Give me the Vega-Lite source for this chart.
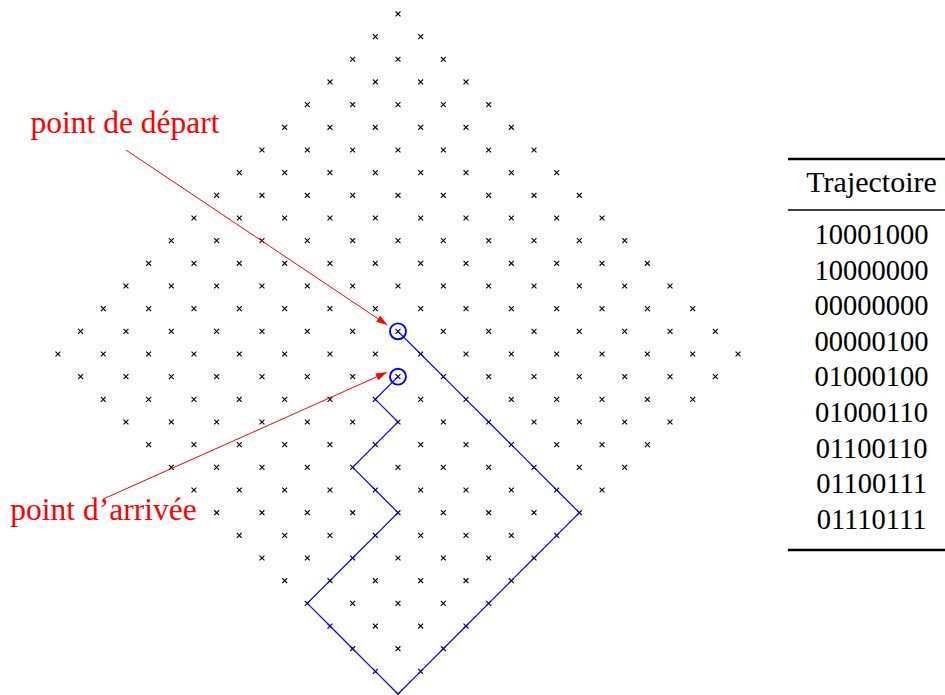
{
  "$schema": "https://vega.github.io/schema/vega-lite/v6.json",
  "width": 945,
  "height": 695,
  "autosize": {"type": "none"},
  "padding": 0,
  "background": "white",
  "config": {"view": {"stroke": null}},
  "datasets": {
    "grid": [
      {"a":0,"b":15},
      {"a":-1,"b":14},{"a":1,"b":14},
      {"a":-2,"b":13},{"a":0,"b":13},{"a":2,"b":13},
      {"a":-3,"b":12},{"a":-1,"b":12},{"a":1,"b":12},{"a":3,"b":12},
      {"a":-4,"b":11},{"a":-2,"b":11},{"a":0,"b":11},{"a":2,"b":11},{"a":4,"b":11},
      {"a":-5,"b":10},{"a":-3,"b":10},{"a":-1,"b":10},{"a":1,"b":10},{"a":3,"b":10},{"a":5,"b":10},
      {"a":-6,"b":9},{"a":-4,"b":9},{"a":-2,"b":9},{"a":0,"b":9},{"a":2,"b":9},{"a":4,"b":9},{"a":6,"b":9},
      {"a":-7,"b":8},{"a":-5,"b":8},{"a":-3,"b":8},{"a":-1,"b":8},{"a":1,"b":8},{"a":3,"b":8},{"a":5,"b":8},{"a":7,"b":8},
      {"a":-8,"b":7},{"a":-6,"b":7},{"a":-4,"b":7},{"a":-2,"b":7},{"a":0,"b":7},{"a":2,"b":7},{"a":4,"b":7},{"a":6,"b":7},{"a":8,"b":7},
      {"a":-9,"b":6},{"a":-7,"b":6},{"a":-5,"b":6},{"a":-3,"b":6},{"a":-1,"b":6},{"a":1,"b":6},{"a":3,"b":6},{"a":5,"b":6},{"a":7,"b":6},{"a":9,"b":6},
      {"a":-10,"b":5},{"a":-8,"b":5},{"a":-6,"b":5},{"a":-4,"b":5},{"a":-2,"b":5},{"a":0,"b":5},{"a":2,"b":5},{"a":4,"b":5},{"a":6,"b":5},{"a":8,"b":5},{"a":10,"b":5},
      {"a":-11,"b":4},{"a":-9,"b":4},{"a":-7,"b":4},{"a":-5,"b":4},{"a":-3,"b":4},{"a":-1,"b":4},{"a":1,"b":4},{"a":3,"b":4},{"a":5,"b":4},{"a":7,"b":4},{"a":9,"b":4},{"a":11,"b":4},
      {"a":-12,"b":3},{"a":-10,"b":3},{"a":-8,"b":3},{"a":-6,"b":3},{"a":-4,"b":3},{"a":-2,"b":3},{"a":0,"b":3},{"a":2,"b":3},{"a":4,"b":3},{"a":6,"b":3},{"a":8,"b":3},{"a":10,"b":3},{"a":12,"b":3},
      {"a":-13,"b":2},{"a":-11,"b":2},{"a":-9,"b":2},{"a":-7,"b":2},{"a":-5,"b":2},{"a":-3,"b":2},{"a":-1,"b":2},{"a":1,"b":2},{"a":3,"b":2},{"a":5,"b":2},{"a":7,"b":2},{"a":9,"b":2},{"a":11,"b":2},{"a":13,"b":2},
      {"a":-14,"b":1},{"a":-12,"b":1},{"a":-10,"b":1},{"a":-8,"b":1},{"a":-6,"b":1},{"a":-4,"b":1},{"a":-2,"b":1},{"a":0,"b":1},{"a":2,"b":1},{"a":4,"b":1},{"a":6,"b":1},{"a":8,"b":1},{"a":10,"b":1},{"a":12,"b":1},{"a":14,"b":1},
      {"a":-15,"b":0},{"a":-13,"b":0},{"a":-11,"b":0},{"a":-9,"b":0},{"a":-7,"b":0},{"a":-5,"b":0},{"a":-3,"b":0},{"a":-1,"b":0},{"a":1,"b":0},{"a":3,"b":0},{"a":5,"b":0},{"a":7,"b":0},{"a":9,"b":0},{"a":11,"b":0},{"a":13,"b":0},{"a":15,"b":0},
      {"a":-14,"b":-1},{"a":-12,"b":-1},{"a":-10,"b":-1},{"a":-8,"b":-1},{"a":-6,"b":-1},{"a":-4,"b":-1},{"a":-2,"b":-1},{"a":0,"b":-1},{"a":2,"b":-1},{"a":4,"b":-1},{"a":6,"b":-1},{"a":8,"b":-1},{"a":10,"b":-1},{"a":12,"b":-1},{"a":14,"b":-1},
      {"a":-13,"b":-2},{"a":-11,"b":-2},{"a":-9,"b":-2},{"a":-7,"b":-2},{"a":-5,"b":-2},{"a":-3,"b":-2},{"a":-1,"b":-2},{"a":1,"b":-2},{"a":3,"b":-2},{"a":5,"b":-2},{"a":7,"b":-2},{"a":9,"b":-2},{"a":11,"b":-2},{"a":13,"b":-2},
      {"a":-12,"b":-3},{"a":-10,"b":-3},{"a":-8,"b":-3},{"a":-6,"b":-3},{"a":-4,"b":-3},{"a":-2,"b":-3},{"a":0,"b":-3},{"a":2,"b":-3},{"a":4,"b":-3},{"a":6,"b":-3},{"a":8,"b":-3},{"a":10,"b":-3},{"a":12,"b":-3},
      {"a":-11,"b":-4},{"a":-9,"b":-4},{"a":-7,"b":-4},{"a":-5,"b":-4},{"a":-3,"b":-4},{"a":-1,"b":-4},{"a":1,"b":-4},{"a":3,"b":-4},{"a":5,"b":-4},{"a":7,"b":-4},{"a":9,"b":-4},{"a":11,"b":-4},
      {"a":-10,"b":-5},{"a":-8,"b":-5},{"a":-6,"b":-5},{"a":-4,"b":-5},{"a":-2,"b":-5},{"a":0,"b":-5},{"a":2,"b":-5},{"a":4,"b":-5},{"a":6,"b":-5},{"a":8,"b":-5},{"a":10,"b":-5},
      {"a":-9,"b":-6},{"a":-7,"b":-6},{"a":-5,"b":-6},{"a":-3,"b":-6},{"a":-1,"b":-6},{"a":1,"b":-6},{"a":3,"b":-6},{"a":5,"b":-6},{"a":7,"b":-6},{"a":9,"b":-6},
      {"a":-8,"b":-7},{"a":-6,"b":-7},{"a":-4,"b":-7},{"a":-2,"b":-7},{"a":0,"b":-7},{"a":2,"b":-7},{"a":4,"b":-7},{"a":6,"b":-7},{"a":8,"b":-7},
      {"a":-7,"b":-8},{"a":-5,"b":-8},{"a":-3,"b":-8},{"a":-1,"b":-8},{"a":1,"b":-8},{"a":3,"b":-8},{"a":5,"b":-8},{"a":7,"b":-8},
      {"a":-6,"b":-9},{"a":-4,"b":-9},{"a":-2,"b":-9},{"a":0,"b":-9},{"a":2,"b":-9},{"a":4,"b":-9},{"a":6,"b":-9},
      {"a":-5,"b":-10},{"a":-3,"b":-10},{"a":-1,"b":-10},{"a":1,"b":-10},{"a":3,"b":-10},{"a":5,"b":-10},
      {"a":-4,"b":-11},{"a":-2,"b":-11},{"a":0,"b":-11},{"a":2,"b":-11},{"a":4,"b":-11},
      {"a":-3,"b":-12},{"a":-1,"b":-12},{"a":1,"b":-12},{"a":3,"b":-12},
      {"a":-2,"b":-13},{"a":0,"b":-13},{"a":2,"b":-13},
      {"a":-1,"b":-14},{"a":1,"b":-14},
      {"a":0,"b":-15}
    ],
    "path": [
      {"i":0,"a":0,"b":1},
      {"i":1,"a":1,"b":0},{"i":2,"a":2,"b":-1},{"i":3,"a":3,"b":-2},{"i":4,"a":4,"b":-3},
      {"i":5,"a":5,"b":-4},{"i":6,"a":6,"b":-5},{"i":7,"a":7,"b":-6},{"i":8,"a":8,"b":-7},
      {"i":9,"a":7,"b":-8},{"i":10,"a":6,"b":-9},{"i":11,"a":5,"b":-10},{"i":12,"a":4,"b":-11},
      {"i":13,"a":3,"b":-12},{"i":14,"a":2,"b":-13},{"i":15,"a":1,"b":-14},{"i":16,"a":0,"b":-15},
      {"i":17,"a":-1,"b":-14},{"i":18,"a":-2,"b":-13},{"i":19,"a":-3,"b":-12},{"i":20,"a":-4,"b":-11},
      {"i":21,"a":-3,"b":-10},{"i":22,"a":-2,"b":-9},{"i":23,"a":-1,"b":-8},{"i":24,"a":0,"b":-7},
      {"i":25,"a":-1,"b":-6},{"i":26,"a":-2,"b":-5},
      {"i":27,"a":-1,"b":-4},{"i":28,"a":0,"b":-3},
      {"i":29,"a":-1,"b":-2},
      {"i":30,"a":0,"b":-1}
    ],
    "circles": [{"a":0,"b":1},{"a":0,"b":-1}],
    "arrow1": [{"a":-12,"b":9,"a2":-0.47,"b2":1.28}],
    "head1": [{"a":-0.47,"b":1.28}],
    "arrow2": [{"a":-13.01,"b":-6.4,"a2":-0.49,"b2":-0.81}],
    "head2": [{"a":-0.49,"b":-0.81}],
    "labels": [
      {"a":-12.04,"b":9.75,"t":"point de départ"},
      {"a":-12.99,"b":-7.32,"t":"point d’arrivée"}
    ],
    "header": [{"a":20.89,"b":7.146,"t":"Trajectoire"}],
    "rows": [
      {"a":20.89,"b":4.852,"t":"10001000"},
      {"a":20.89,"b":3.282,"t":"10000000"},
      {"a":20.89,"b":1.711,"t":"00000000"},
      {"a":20.89,"b":0.141,"t":"00000100"},
      {"a":20.89,"b":-1.429,"t":"01000100"},
      {"a":20.89,"b":-3.0,"t":"01000110"},
      {"a":20.89,"b":-4.57,"t":"01100110"},
      {"a":20.89,"b":-6.14,"t":"01100111"},
      {"a":20.89,"b":-7.711,"t":"01110111"}
    ],
    "thick": [{"a":17.2,"a2":24.13,"b":8.602},{"a":17.2,"a2":24.13,"b":-8.646}],
    "thin": [{"a":17.2,"a2":24.13,"b":6.352}]
  },
  "encoding": {
    "x": {"field": "a", "type": "quantitative", "scale": {"domain": [-17.556, 24.129], "nice": false, "zero": false}, "axis": null},
    "y": {"field": "b", "type": "quantitative", "scale": {"domain": [-15.042, 15.615], "nice": false, "zero": false}, "axis": null}
  },
  "layer": [
    {
      "data": {"name": "grid"},
      "mark": {"type": "point", "shape": "M-1,-1L1,1M-1,1L1,-1", "filled": false, "stroke": "black", "strokeWidth": 1.1, "size": 24, "opacity": 1}
    },
    {
      "data": {"name": "path"},
      "mark": {"type": "line", "color": "#0000ff", "strokeWidth": 1.2},
      "encoding": {"order": {"field": "i", "type": "quantitative"}}
    },
    {
      "data": {"name": "circles"},
      "mark": {"type": "point", "shape": "circle", "filled": false, "stroke": "#0000ff", "strokeWidth": 1.9, "size": 254, "opacity": 1}
    },
    {
      "data": {"name": "arrow1"},
      "mark": {"type": "rule", "color": "#ff0000", "strokeWidth": 1},
      "encoding": {"x2": {"field": "a2"}, "y2": {"field": "b2"}}
    },
    {
      "data": {"name": "arrow2"},
      "mark": {"type": "rule", "color": "#ff0000", "strokeWidth": 1},
      "encoding": {"x2": {"field": "a2"}, "y2": {"field": "b2"}}
    },
    {
      "data": {"name": "head1"},
      "mark": {"type": "point", "shape": "M0,0L-0.33,1L0.33,1Z", "filled": true, "color": "#ff0000", "size": 484, "angle": 123.8, "opacity": 1}
    },
    {
      "data": {"name": "head2"},
      "mark": {"type": "point", "shape": "M0,0L-0.33,1L0.33,1Z", "filled": true, "color": "#ff0000", "size": 484, "angle": 65.9, "opacity": 1}
    },
    {
      "data": {"name": "labels"},
      "mark": {"type": "text", "font": "Liberation Serif", "fontSize": 31.5, "color": "#ff0000", "align": "center", "baseline": "alphabetic"},
      "encoding": {"text": {"field": "t"}}
    },
    {
      "data": {"name": "header"},
      "mark": {"type": "text", "font": "Liberation Serif", "fontSize": 30, "color": "black", "align": "center", "baseline": "alphabetic"},
      "encoding": {"text": {"field": "t"}}
    },
    {
      "data": {"name": "rows"},
      "mark": {"type": "text", "font": "Liberation Serif", "fontSize": 28.5, "color": "black", "align": "center", "baseline": "alphabetic"},
      "encoding": {"text": {"field": "t"}}
    },
    {
      "data": {"name": "thick"},
      "mark": {"type": "rule", "color": "black", "strokeWidth": 2.5},
      "encoding": {"x2": {"field": "a2"}}
    },
    {
      "data": {"name": "thin"},
      "mark": {"type": "rule", "color": "black", "strokeWidth": 1.4},
      "encoding": {"x2": {"field": "a2"}}
    }
  ]
}
